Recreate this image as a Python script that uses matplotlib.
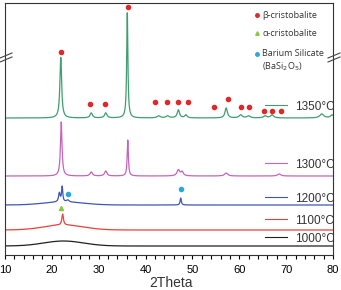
import numpy as np
import matplotlib.pyplot as plt

# XRD patterns, intensities in arbitrary (stacked) units
two_theta = np.linspace(10, 80, 1751)

temps = ['1000°C', '1100°C', '1200°C', '1300°C', '1350°C']
colors = ['#202020', '#e8403c', '#3f55b4', '#c565b8', '#3f9e70']
offsets = [9, 25, 50, 79, 137]
hump = [5, 5, 3, 0, 0]          # amorphous hump near 22 deg

# peaks: (position, height, width)
peaks_1000 = []
peaks_1100 = [(22.3, 11, 0.2)]
peaks_1200 = [(21.6, 9, 0.2), (22.2, 15, 0.15), (23.4, 2, 0.3), (47.5, 7, 0.15)]
peaks_1300 = [(22.0, 54, 0.2), (28.4, 4, 0.3), (31.5, 5, 0.3), (36.2, 36, 0.15),
              (47.0, 6, 0.35), (47.8, 4, 0.3), (57.2, 3, 0.4), (68.5, 2, 0.4)]
peaks_1350 = [(21.9, 61, 0.22), (28.4, 5, 0.3), (31.5, 5, 0.3), (36.1, 107, 0.15),
              (42.8, 2, 0.4), (44.7, 2, 0.4), (47.0, 8, 0.3), (48.6, 3, 0.3),
              (57.2, 10, 0.3), (60.3, 3, 0.4), (62.0, 2, 0.4), (65.5, 2, 0.4),
              (67.0, 3, 0.4), (77.6, 4, 0.5), (79.8, 3, 0.4)]
all_peaks = [peaks_1000, peaks_1100, peaks_1200, peaks_1300, peaks_1350]

# phase markers (2theta, y)
beta_x = [21.95, 36.2, 28.1, 31.4, 42.0, 44.6, 47.0, 49.1, 54.5, 57.5, 60.3, 62.1, 65.3, 67.0, 68.9]
beta_y = [203, 248, 151, 151, 153, 153, 153, 153, 148, 156, 148, 148, 144, 144, 144]
alpha_x = [22.0]
alpha_y = [47]
ba_x = [23.5, 47.6]
ba_y = [61, 66]

label_y = [16, 34, 56, 90, 148]

fig = plt.figure(figsize=(3.41, 2.90), dpi=100)
ax = fig.add_axes([5 / 341, 35 / 290, 328 / 341, 252 / 290])

for i in range(5):
    y = offsets[i] + hump[i] * np.exp(-((two_theta - 22.5) / 6.0) ** 2)
    for p, h, w in all_peaks[i]:
        y = y + h / (1 + ((two_theta - p) / w) ** 2)
    ax.plot(two_theta, y, color=colors[i], lw=0.9)
    ax.plot([65.5, 70.2], [label_y[i] + 2, label_y[i] + 2], color=colors[i], lw=0.8)
    ax.text(71.8, label_y[i], temps[i], fontsize=8.5, family='Liberation Sans',
            va='center', ha='left', color='#333333')

ax.plot(beta_x, beta_y, 'o', color='#e02828', ms=3, ls='none')
ax.plot(alpha_x, alpha_y, '^', color='#8cc63f', ms=3, ls='none')
ax.plot(ba_x, ba_y, 'o', color='#29a8e0', ms=3, ls='none')

# legend-like annotations
ax.plot([63.8], [240], 'o', color='#e02828', ms=2.5)
ax.plot([63.8], [222], '^', color='#8cc63f', ms=2.5)
ax.plot([63.8], [201], 'o', color='#29a8e0', ms=2.5)
lf = 'Open Sans'
ax.text(64.9, 240, 'β-cristobalite', fontsize=6.5, family=lf, va='center', color='#333333')
ax.text(64.9, 222, 'α-cristobalite', fontsize=6.5, family=lf, va='center', color='#333333')
ax.text(64.9, 201, 'Barium Silicate', fontsize=6.5, family=lf, va='center', color='#333333')
ax.text(64.9, 188, '(BaSi$_2$O$_5$)', fontsize=6.5, family=lf, va='center', color='#333333')

ax.set_xlim(10, 80)
ax.set_ylim(0, 252)
ax.set_yticks([])
ax.set_xticks(range(10, 81, 10))
ax.set_xticks(range(10, 81, 2), minor=True)
ax.tick_params(axis='x', which='major', length=3, width=0.8, labelsize=8, pad=4)
ax.tick_params(axis='x', which='minor', length=3, width=0.8)
for lab in ax.get_xticklabels():
    lab.set_family('Liberation Sans')
for s in ax.spines.values():
    s.set_linewidth(0.8)
    s.set_color('#333333')

# axis break marks
for x0, x1 in [(0, 12), (328, 340)]:
    for dy in (0, 4):
        fig.add_artist(plt.Line2D([x0 / 341, x1 / 341],
                                  [1 - (58 + dy) / 290, 1 - (53 + dy) / 290],
                                  color='#444444', lw=0.8))

fig.text(0.5, 0.0, '2Theta', fontsize=10, family='Liberation Sans',
         ha='center', va='bottom', color='#333333')

fig.savefig('out.png', dpi=100)
